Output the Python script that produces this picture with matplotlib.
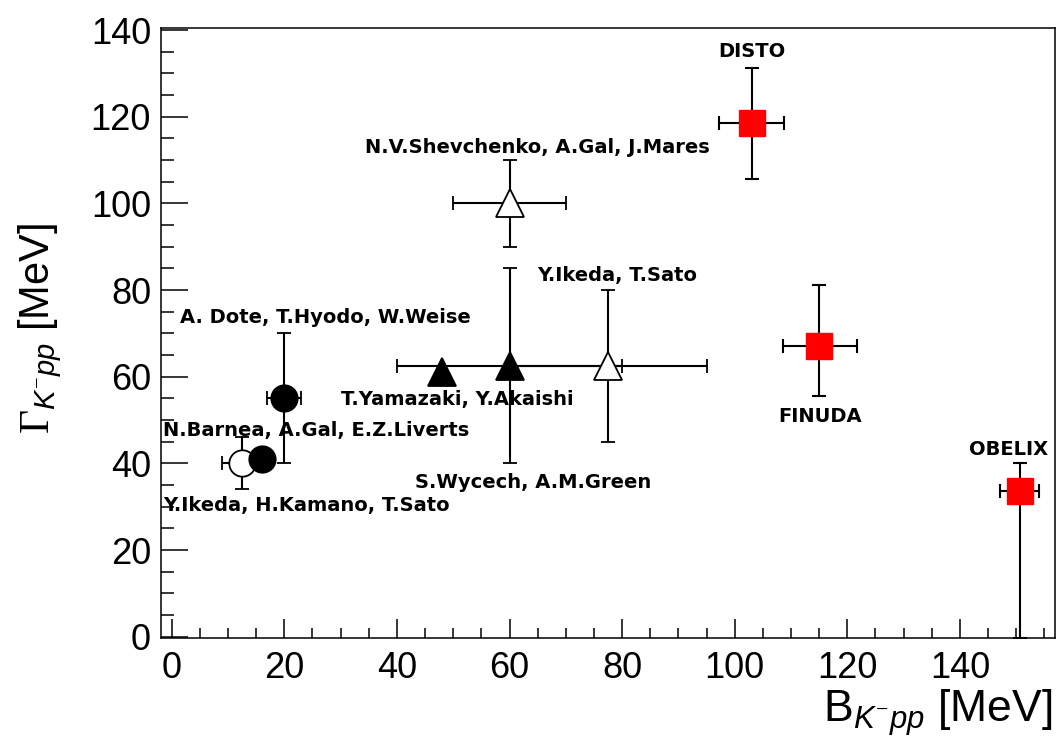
import matplotlib
matplotlib.use("Agg")
import matplotlib.pyplot as plt
from matplotlib.ticker import MultipleLocator

plt.rcParams['font.family'] = ['Liberation Sans', 'DejaVu Sans']
plt.rcParams['mathtext.fontset'] = 'custom'
plt.rcParams['mathtext.rm'] = 'Liberation Serif'
plt.rcParams['mathtext.it'] = 'Liberation Sans:italic'

# theoretical predictions
theo_names = ["Y.Ikeda, H.Kamano, T.Sato", "N.Barnea, A.Gal, E.Z.Liverts",
              "A. Dote, T.Hyodo, W.Weise", "T.Yamazaki, Y.Akaishi",
              "S.Wycech, A.M.Green", "N.V.Shevchenko, A.Gal, J.Mares",
              "Y.Ikeda, T.Sato"]
theo_B = [12.5, 16, 20, 48, 60, 60, 77.5]
theo_B_err = [3.5, 0, 3, 0, 20, 10, 17.5]
theo_G = [40, 41, 55, 61, 62.5, 100, 62.5]
theo_G_err = [6, 0, 15, 0, 22.5, 10, 17.5]

# experiments
exp_names = ["DISTO", "FINUDA", "OBELIX"]
exp_B = [103, 115, 150.6]
exp_B_lo = [5.8, 6.4, 3.4]
exp_B_hi = [5.8, 6.7, 3.4]
exp_G = [118.5, 67, 33.7]
exp_G_lo = [12.8, 11.4, 34.0]
exp_G_hi = [12.8, 14.1, 6.5]

theo_marker = ['o', 'o', 'o', '^', '^', '^', '^']
theo_fill = ['white', 'black', 'black', 'black', 'black', 'white', 'white']

# label placement (x, y, ha)
theo_lab = [(-1.5, 30.2, 'left'), (-1.5, 47.5, 'left'), (1.5, 73.6, 'left'),
            (30.1, 54.8, 'left'), (43.2, 35.7, 'left'), (64.9, 112.9, 'center'),
            (64.9, 83.3, 'left')]
exp_lab = [(103.1, 135.0), (115.2, 50.9), (148.7, 43.1)]

fig = plt.figure(figsize=(10.56, 7.38), dpi=100)
ax = fig.add_axes([0.1522, 0.1351, 0.8469, 0.827])

ebkw = dict(ecolor='black', elinewidth=1.5, capsize=5, capthick=1.5, linestyle='none')
for i in range(len(theo_B)):
    ms = 19 if theo_marker[i] == 'o' else 20
    ax.errorbar(theo_B[i], theo_G[i], xerr=theo_B_err[i], yerr=theo_G_err[i],
                marker=theo_marker[i], ms=ms, mfc=theo_fill[i], mec='black',
                mew=1.3, zorder=3 + i, **ebkw)
    x, y, ha = theo_lab[i]
    ax.text(x, y, theo_names[i], ha=ha, va='center', fontsize=14,
            fontweight='bold', family='DejaVu Sans', zorder=20)

for i in range(len(exp_B)):
    ax.errorbar(exp_B[i], exp_G[i], xerr=[[exp_B_lo[i]], [exp_B_hi[i]]],
                yerr=[[exp_G_lo[i]], [exp_G_hi[i]]], marker='s', ms=19,
                mfc='#ff0000', mec='#ff0000', zorder=12, **ebkw)
    x, y = exp_lab[i]
    ax.text(x, y, exp_names[i], ha='center', va='center', fontsize=14,
            fontweight='bold', family='DejaVu Sans', zorder=20)

ax.set_xlim(-1.95, 156.9)
ax.set_ylim(-0.37, 140.5)
ax.xaxis.set_major_locator(MultipleLocator(20))
ax.xaxis.set_minor_locator(MultipleLocator(5))
ax.yaxis.set_major_locator(MultipleLocator(20))
ax.yaxis.set_minor_locator(MultipleLocator(5))
ax.tick_params(which='both', direction='in', top=False, right=False, width=1.1)
ax.tick_params(axis='x', which='major', length=13.7, pad=9, labelsize=26)
ax.tick_params(axis='x', which='minor', length=7.2)
ax.tick_params(axis='y', which='major', length=19.4, pad=7, labelsize=26)
ax.tick_params(axis='y', which='minor', length=9.7)
for s in ax.spines.values():
    s.set_linewidth(1.1)

ax.set_xlabel(r'B$_{K^{-}pp}$ [MeV]', fontsize=32)
ax.xaxis.label.set_ha('right')
ax.xaxis.label.set_va('baseline')
ax.xaxis.set_label_coords(0.9966, -0.137)
ax.set_ylabel(r'$\Gamma_{K^{-}pp}$ [MeV]', fontsize=30)
ax.yaxis.label.set_va('center')
ax.yaxis.set_label_coords(-0.135, 0.508)

fig.savefig('out.png', dpi=100)
